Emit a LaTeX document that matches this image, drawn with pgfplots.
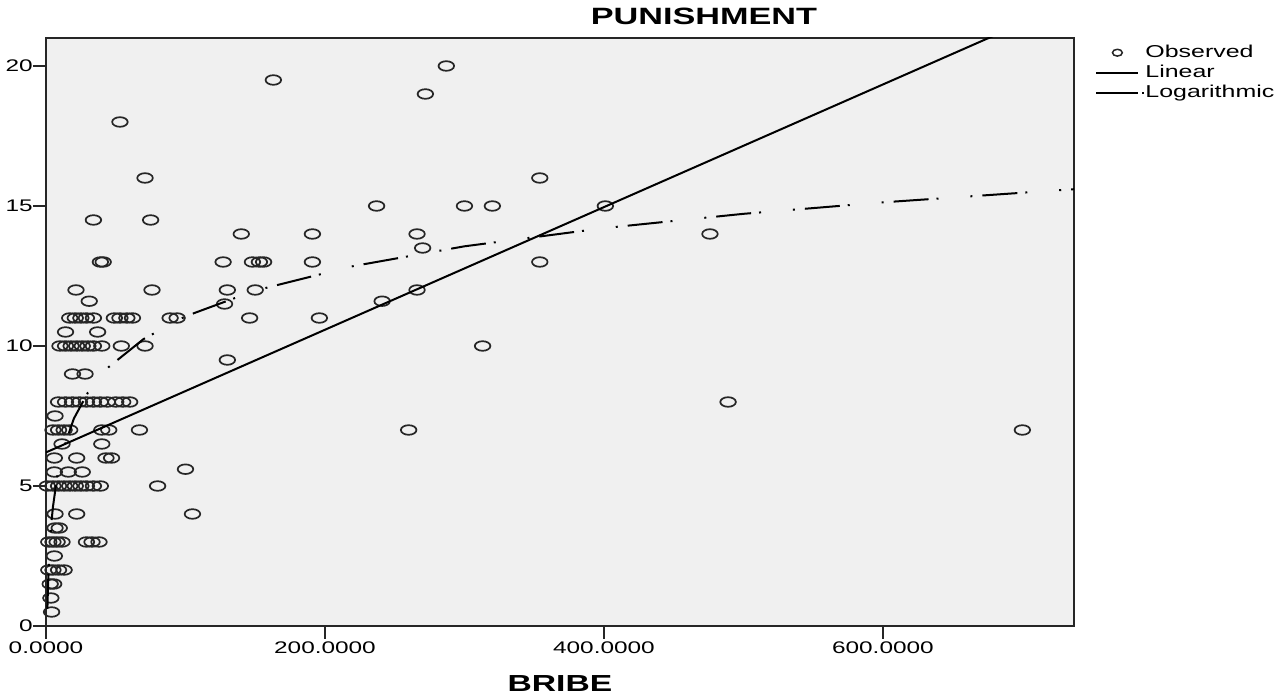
\documentclass[border=0pt]{standalone}
\usepackage{fontspec}
\setmainfont{Liberation Sans}[FakeStretch=1.45]
\usepackage{pgfplots}
\pgfplotsset{compat=1.18}
\pgfplotstableread{
x y
287 20
163 19.5
272 19
53 18
71 16
354 16
237 15
300 15
320 15
401 15
34 14.5
75 14.5
140 14
191 14
266 14
476 14
270 13.5
39 13
41 13
127 13
148 13
153 13
156 13
191 13
354 13
21.5 12
76 12
130 12
150 12
266 12
31 11.6
241 11.6
128 11.5
17 11
21 11
25 11
29 11
34 11
49 11
53 11
58 11
62 11
89 11
94 11
146 11
196 11
14 10.5
37 10.5
10 10
14 10
18 10
22 10
26 10
30 10
34 10
40 10
54 10
71 10
313 10
130 9.5
19 9
28 9
9 8
14 8
19 8
24 8
29 8
34 8
39 8
44 8
50 8
55 8
60 8
489 8
6.5 7.5
5 7
9 7
13 7
17 7
40 7
45 7
67 7
260 7
700 7
11.5 6.5
40 6.5
6 6
22 6
43 6
47 6
100 5.6
6 5.5
16 5.5
26 5.5
1 5
5 5
9 5
13 5
17 5
21 5
25 5
29 5
34 5
39 5
80 5
6.5 4
22 4
105 4
6.5 3.5
9.5 3.5
2 3
5 3
8 3
11.5 3
29 3
33 3
38 3
6 2.5
2 2
5 2
9 2
13 2
3 1.5
5.5 1.5
3.5 1
4 0.5
}\observed
\pgfplotstableread{
x y
0 6.2
737 22.34
}\linearfit
\pgfplotstableread{
x y
1 0.61
1.5 1.53
2 2.18
3 3.10
4 3.76
5 4.26
8 5.33
12 6.25
20 7.41
30 8.33
45 9.25
70 10.25
100 11.06
150 11.98
220 12.85
300 13.56
400 14.21
500 14.72
600 15.13
737 15.60
}\logfit
\begin{document}
\begin{tikzpicture}
\begin{axis}[
  name=ax,
  scale only axis, width=514pt, height=294pt,
  xmin=0, xmax=737, ymin=0, ymax=21,
  axis background/.style={fill=black!6},
  axis line style={draw=black!85, line width=0.9pt},
  xtick={0,200,400,600}, ytick={0,5,10,15,20},
  tick align=outside, tick pos=left,
  major tick length=6.5pt,
  tick style={black!85, line width=0.8pt},
  /pgf/number format/assume math mode=true,
  xticklabel style={/pgf/number format/.cd, fixed, fixed zerofill, precision=4, /tikz/yshift=2pt},
  ticklabel style={font=\fontsize{8.4pt}{10pt}\selectfont},
  yticklabel style={inner xsep=0pt},
  xlabel={BRIBE},
  xlabel style={font=\bfseries\fontsize{11.6pt}{13pt}\selectfont, at={(axis description cs:0.5,0)}, anchor=base, yshift=-33pt},
  title={PUNISHMENT},
  title style={font=\bfseries\fontsize{11.8pt}{13pt}\selectfont, at={(axis description cs:0.64,1)}, anchor=base, yshift=0.5pt},
  clip mode=individual,
  legend style={at={(axis description cs:1,1)}, anchor=north west, xshift=10.5pt, yshift=-3pt,
    draw=none, fill=none, font=\fontsize{8.6pt}{10pt}\selectfont,
    inner sep=0pt, row sep=1.7pt,
    nodes={inner sep=0pt, text height=6.5pt, text depth=1.8pt},
    /tikz/every odd column/.append style={column sep=0pt}},
  legend cell align=left,
]
\addplot[only marks, mark=o, mark size=2.4pt, mark options={xscale=1.62, line width=0.85pt, draw=black!85},
  legend image code/.code={\path[draw=none] (0pt,0pt) -- (21pt,0pt); \path[draw=none] plot[only marks, mark=o, mark size=1.7pt, mark options={xscale=1.45, line width=0.75pt, draw=black!85}] coordinates {(10.5pt,0pt)};}]
  table[x=x, y=y] {\observed};
\addlegendentry{Observed}
\addplot[no marks, black, line width=1pt,
  legend image code/.code={\draw[line width=1pt, black] (0pt,0pt) -- (21pt,0pt);}]
  table[x=x, y=y] {\linearfit};
\addlegendentry{Linear}
\addplot[no marks, black, line width=1pt, dash pattern=on 17.5pt off 4pt on 1pt off 16pt on 1pt off 5pt,
  legend image code/.code={\draw[line width=1pt, black, dash pattern=on 21pt off 2pt on 1pt off 10pt] (0pt,0pt) -- (24pt,0pt);}]
  table[x=x, y=y] {\logfit};
\addlegendentry{Logarithmic}
\end{axis}
\pgfresetboundingbox
\path[use as bounding box] ([xshift=-23pt,yshift=-36.5pt]ax.south west) rectangle ([xshift=100pt,yshift=19pt]ax.north east);
\end{tikzpicture}
\end{document}
